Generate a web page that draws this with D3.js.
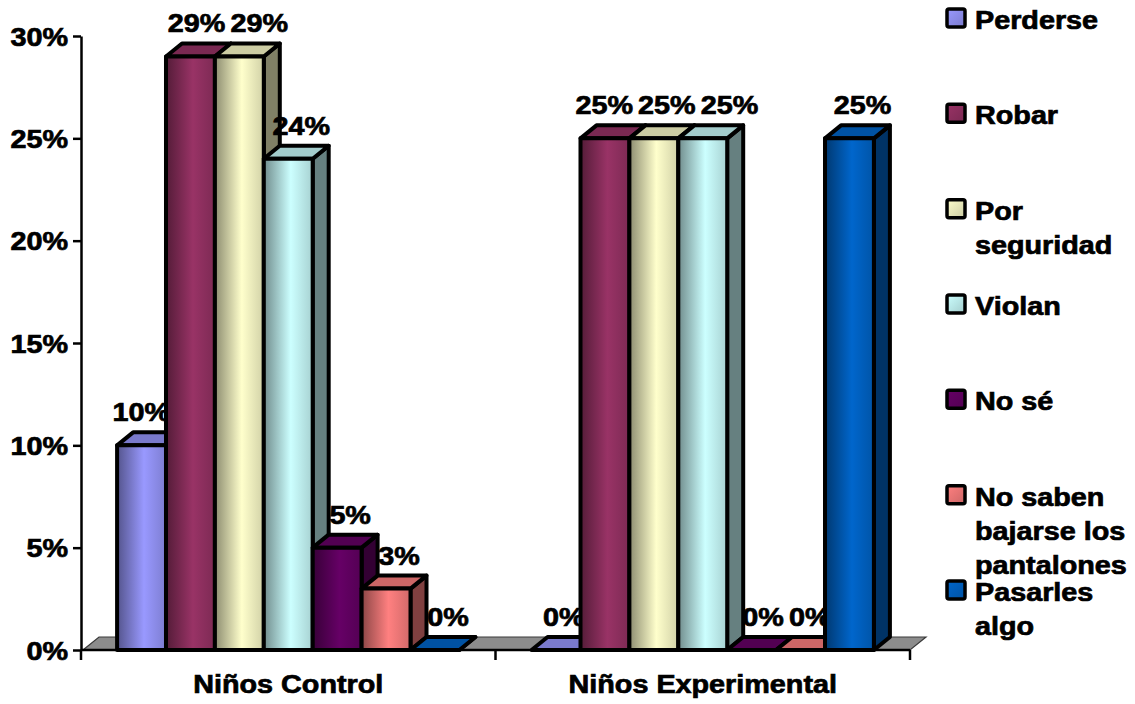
<!DOCTYPE html>
<html>
<head>
<meta charset="utf-8">
<script src="https://cdn.jsdelivr.net/npm/d3@7"></script>
<style>
  body { margin: 0; background: #ffffff; }
  svg { display: block; }
</style>
</head>
<body>
<svg id="chart" width="1135" height="704"></svg>
<script>
// ---- data ----
const categories = ["Niños Control", "Niños Experimental"];
const seriesNames = ["Perderse", "Robar", "Por seguridad", "Violan", "No sé",
                     "No saben bajarse los pantalones", "Pasarles algo"];
const legendLines = [["Perderse"], ["Robar"], ["Por", "seguridad"], ["Violan"], ["No sé"],
                     ["No saben", "bajarse los", "pantalones"], ["Pasarles", "algo"]];
const controlValues = [0.10, 0.29, 0.29, 0.24, 0.05, 0.03, 0.00];
const experimentalValues = [0.00, 0.25, 0.25, 0.25, 0.00, 0.00, 0.25];
const yTickValues = [0, 0.05, 0.10, 0.15, 0.20, 0.25, 0.30];
const seriesColors = ["#9999ff", "#993366", "#ffffcc", "#ccffff", "#660066", "#ff8080", "#0066cc"];

// ---- layout ----
const plot = { left: 81, right: 910, top: 36, bottom: 650 };
const depth = { dx: 16, dy: -13 };
const FONT = "Arial, 'Liberation Sans', sans-serif";
const STRETCH = 1.15;
const STROKE = 4;

const svg = d3.select("#chart");
const defs = svg.append("defs");

const y = d3.scaleLinear().domain([0, 0.30]).range([plot.bottom, plot.top]);
const x0 = d3.scaleBand().domain(categories).range([plot.left, plot.right]).padding(0);
const x1 = d3.scaleBand().domain(seriesNames).range([0, x0.bandwidth()])
  .paddingInner(0).paddingOuter(0.738);
const valuesByCategory = [controlValues, experimentalValues];
const pct = v => Math.round(v * 100) + "%";

function shade(c, k) {
  const b = d3.rgb(c);
  return d3.rgb(b.r * k, b.g * k, b.b * k).formatHex();
}

// horizontal shading on the front faces
seriesColors.forEach((c, i) => {
  const g = defs.append("linearGradient").attr("id", "front" + i)
    .attr("x1", 0).attr("x2", 1).attr("y1", 0).attr("y2", 0);
  g.append("stop").attr("offset", "0%").attr("stop-color", shade(c, 0.55));
  g.append("stop").attr("offset", "55%").attr("stop-color", c);
  g.append("stop").attr("offset", "100%").attr("stop-color", shade(c, 0.82));
  const s = defs.append("linearGradient").attr("id", "swatch" + i)
    .attr("x1", 0).attr("x2", 1).attr("y1", 0).attr("y2", 1);
  s.append("stop").attr("offset", "0%").attr("stop-color", c);
  s.append("stop").attr("offset", "100%").attr("stop-color", shade(c, 0.8));
});

function boldText(parent, x, yy, str, anchor, size) {
  return parent.append("text")
    .attr("transform", `translate(${x},${yy}) scale(${STRETCH},1)`)
    .attr("text-anchor", anchor)
    .attr("font-family", FONT)
    .attr("font-weight", "bold")
    .attr("font-size", size || 25)
    .attr("fill", "#000")
    .attr("stroke", "#000")
    .attr("stroke-width", 0.7)
    .text(str);
}

const line = d3.line();
const y0 = y(0);

// ---- value label placement ----
const probe = svg.append("g");
const labelInfo = valuesByCategory.map((vals, ci) => vals.map((v, si) => {
  const xl = x0(categories[ci]) + x1(seriesNames[si]);
  const xr = xl + x1.bandwidth();
  const t = boldText(probe, 0, 0, pct(v), "middle", 25);
  const w = t.node().getBBox().width * STRETCH;
  t.remove();
  const base = y(v) + depth.dy - 11;
  let cx = (xl + xr) / 2 + 13;
  // a taller neighbour on the right hides anything past its front edge
  if (si + 1 < vals.length && y(vals[si + 1]) + depth.dy < base) {
    cx = Math.min(cx, xr + 4 - w / 2);
  }
  return { cx, base, w };
}));
probe.remove();
// spread labels sharing a baseline so they do not collide
labelInfo.forEach(group => {
  for (let iter = 0; iter < 60; iter++) {
    for (let a = 0; a < group.length; a++) {
      for (let b = a + 1; b < group.length; b++) {
        const A = group[a], B = group[b];
        if (Math.abs(A.base - B.base) > 20) continue;
        const need = (A.w + B.w) / 2 + 5;
        const gap = B.cx - A.cx;
        if (gap < need) {
          const push = (need - gap) / 2;
          A.cx -= push; B.cx += push;
        }
      }
    }
  }
});

// ---- floor ----
svg.append("path")
  .attr("d", line([[plot.left + 2, y0], [plot.right, y0],
                   [plot.right + depth.dx, y0 + depth.dy], [plot.left + 2 + depth.dx, y0 + depth.dy]]) + "Z")
  .attr("fill", "#8c8c8c")
  .attr("stroke", "#3a3a3a")
  .attr("stroke-width", 1.2);

// ---- y axis ----
const yAxis = svg.append("g")
  .attr("transform", `translate(${plot.left},0)`)
  .call(d3.axisLeft(y).tickValues(yTickValues).tickFormat(d3.format(".0%"))
        .tickSize(8).tickSizeOuter(0));
yAxis.select(".domain").attr("stroke", "#000").attr("stroke-width", 2.5);
yAxis.selectAll(".tick line").attr("stroke", "#000").attr("stroke-width", 2.5);
yAxis.selectAll(".tick text")
  .attr("x", null).attr("dy", null)
  .attr("transform", `translate(-13,9) scale(${STRETCH},1)`)
  .attr("font-family", FONT).attr("font-weight", "bold").attr("font-size", 25)
  .attr("fill", "#000").attr("stroke", "#000").attr("stroke-width", 0.7)
  .attr("text-anchor", "end");

// ---- x axis ----
svg.append("line")
  .attr("x1", plot.left).attr("x2", plot.right)
  .attr("y1", y0).attr("y2", y0)
  .attr("stroke", "#000").attr("stroke-width", 2.5);
const bounds = [plot.left].concat(categories.map(c => x0(c) + x0.bandwidth()));
svg.selectAll(".xtick").data(bounds).enter().append("line")
  .attr("class", "xtick")
  .attr("x1", d => d).attr("x2", d => d)
  .attr("y1", y0).attr("y2", y0 + 10)
  .attr("stroke", "#000").attr("stroke-width", 2.5);
categories.forEach(c => {
  boldText(svg, x0(c) + x0.bandwidth() / 2, 693, c, "middle", 25);
});

// ---- 3D bars, drawn left to right ----
const bars = svg.append("g");
categories.forEach((cat, ci) => {
  valuesByCategory[ci].forEach((v, si) => {
    const color = seriesColors[si];
    const xl = x0(cat) + x1(seriesNames[si]);
    const xr = xl + x1.bandwidth();
    const yt = y(v);
    const g = bars.append("g").attr("stroke", "#000").attr("stroke-width", STROKE)
      .attr("stroke-linejoin", "round");
    g.append("path")
      .attr("d", line([[xr, y0], [xr + depth.dx, y0 + depth.dy],
                       [xr + depth.dx, yt + depth.dy], [xr, yt]]) + "Z")
      .attr("fill", shade(color, 0.5));
    g.append("path")
      .attr("d", line([[xl, yt], [xl + depth.dx, yt + depth.dy],
                       [xr + depth.dx, yt + depth.dy], [xr, yt]]) + "Z")
      .attr("fill", shade(color, 0.8));
    g.append("rect")
      .attr("x", xl).attr("y", yt)
      .attr("width", xr - xl).attr("height", y0 - yt)
      .attr("fill", `url(#front${si})`);
    // value label sits with its bar so later bars overlap it
    const info = labelInfo[ci][si];
    boldText(bars, info.cx, info.base, pct(v), "middle", 25);
  });
});

// ---- legend ----
const legendY = d3.scaleLinear().domain([0, seriesNames.length - 1]).range([29, 601]);
const legend = svg.append("g");
seriesNames.forEach((s, i) => {
  const by = legendY(i);
  legend.append("rect")
    .attr("x", 947).attr("y", by - 20).attr("width", 18).attr("height", 18)
    .attr("rx", 2)
    .attr("fill", `url(#swatch${i})`)
    .attr("stroke", "#000").attr("stroke-width", 3.5);
  legendLines[i].forEach((t, j) => {
    boldText(legend, 975, by + j * 34, t, "start", 25);
  });
});
</script>
</body>
</html>
